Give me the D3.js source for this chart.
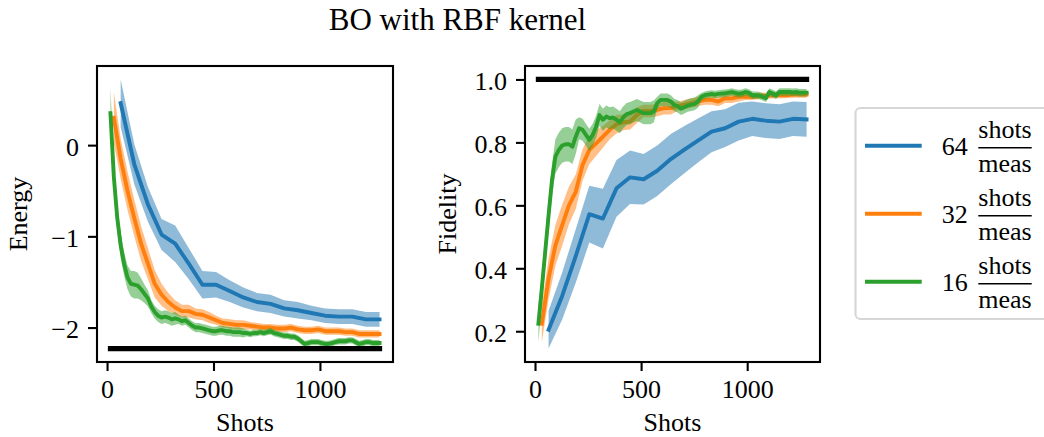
<!DOCTYPE html>
<html><head><meta charset="utf-8">
<script src="https://cdn.jsdelivr.net/npm/d3@7"></script>
<style>
html,body{margin:0;padding:0;background:#fff;}
svg text{font-family:"Liberation Serif","Times New Roman",serif;fill:#000;}
</style></head>
<body><svg id="chart" width="1044" height="437"></svg>
<script>
// ---------- data ----------
const seriesNames = ["64", "32", "16"];
const colors = ["#1f77b4", "#ff7f0e", "#2ca02c"];
const shots64 = d3.range(64, 1281, 64);
const shots32 = d3.range(32, 1281, 32);
const shots16 = d3.range(16, 1281, 16);

const energy64 = [0.46,-0.21,-0.65,-0.98,-1.08,-1.30,-1.53,-1.53,-1.60,-1.67,-1.72,-1.74,-1.79,-1.81,-1.84,-1.87,-1.88,-1.88,-1.91,-1.91];
const energy64Err = [0.26,0.22,0.19,0.17,0.20,0.17,0.15,0.14,0.12,0.11,0.10,0.10,0.09,0.09,0.08,0.08,0.08,0.08,0.08,0.08];

const energy32 = [0.30,-0.15,-0.50,-0.80,-1.08,-1.30,-1.52,-1.64,-1.72,-1.78,-1.82,-1.82,-1.85,-1.86,-1.89,-1.92,-1.95,-1.96,-1.97,-1.97,
                  -1.98,-1.99,-2.00,-2.00,-2.01,-2.01,-2.00,-2.02,-2.03,-2.03,-2.02,-2.04,-2.04,-2.04,-2.05,-2.05,-2.07,-2.07,-2.07,-2.07];
const energy32Err = [0.28,0.22,0.21,0.20,0.19,0.17,0.15,0.12,0.10,0.08,0.07,0.07,0.06,0.06,0.06,0.05,0.05,0.05,0.05,0.05,
                     0.04,0.04,0.04,0.04,0.04,0.04,0.04,0.04,0.04,0.04,0.04,0.04,0.04,0.04,0.04,0.04,0.04,0.04,0.04,0.04];

const energy16 = [0.35,-0.35,-0.80,-1.10,-1.30,-1.45,-1.52,-1.53,-1.54,-1.58,-1.63,-1.68,-1.77,-1.83,-1.87,-1.89,-1.88,-1.89,-1.91,-1.90,
                  -1.91,-1.93,-1.92,-1.95,-1.98,-2.00,-2.00,-2.01,-2.02,-2.03,-2.04,-2.04,-2.03,-2.03,-2.04,-2.04,-2.05,-2.05,-2.05,-2.06,
                  -2.06,-2.07,-2.06,-2.06,-2.05,-2.06,-2.05,-2.04,-2.06,-2.07,-2.08,-2.09,-2.09,-2.10,-2.10,-2.12,-2.15,-2.18,-2.17,-2.16,
                  -2.16,-2.16,-2.17,-2.18,-2.18,-2.17,-2.16,-2.15,-2.15,-2.15,-2.14,-2.14,-2.16,-2.18,-2.17,-2.16,-2.16,-2.17,-2.17,-2.17];
const energy16Err = [0.28,0.18,0.15,0.14,0.13,0.13,0.14,0.15,0.14,0.12,0.10,0.09,0.07,0.07,0.07,0.07,0.07,0.07,0.07,0.07,
                     0.05,0.05,0.05,0.05,0.05,0.05,0.05,0.05,0.05,0.05,0.05,0.05,0.05,0.05,0.05,0.05,0.05,0.05,0.05,0.05,
                     0.035,0.035,0.035,0.035,0.035,0.035,0.035,0.035,0.035,0.035,0.035,0.035,0.035,0.035,0.035,0.035,0.035,0.035,0.035,0.035,
                     0.035,0.035,0.035,0.035,0.035,0.035,0.035,0.035,0.035,0.035,0.035,0.035,0.035,0.035,0.035,0.035,0.035,0.035,0.035,0.035];

const fidelity64 = [0.205,0.312,0.439,0.572,0.558,0.654,0.689,0.683,0.710,0.747,0.777,0.806,0.834,0.845,0.866,0.875,0.869,0.866,0.875,0.873];
const fidelity64Err = [0.06,0.075,0.085,0.09,0.095,0.09,0.085,0.08,0.08,0.08,0.075,0.07,0.065,0.06,0.06,0.055,0.055,0.055,0.055,0.055];

const fidelity32 = [0.224,0.367,0.473,0.537,0.600,0.643,0.728,0.776,0.797,0.818,0.840,0.858,0.864,0.866,0.887,0.900,0.900,0.903,0.909,0.909,
                    0.915,0.920,0.925,0.930,0.935,0.935,0.930,0.940,0.940,0.945,0.945,0.945,0.948,0.948,0.950,0.950,0.950,0.952,0.952,0.952];
const fidelity32Err = [0.058,0.065,0.065,0.065,0.06,0.055,0.05,0.045,0.04,0.035,0.03,0.03,0.025,0.025,0.025,0.02,0.02,0.02,0.02,0.02,
                       0.015,0.015,0.015,0.015,0.015,0.015,0.015,0.015,0.015,0.015,0.01,0.01,0.01,0.01,0.01,0.01,0.01,0.01,0.01,0.01];

const fidelity16 = [0.224,0.335,0.452,0.569,0.680,0.755,0.776,0.790,0.794,0.794,0.786,0.818,0.845,0.840,0.824,0.808,0.824,0.850,0.887,0.872,
                    0.882,0.877,0.879,0.872,0.864,0.880,0.890,0.893,0.898,0.903,0.898,0.893,0.893,0.893,0.898,0.925,0.935,0.935,0.935,0.930,
                    0.919,0.915,0.907,0.912,0.917,0.920,0.922,0.930,0.945,0.950,0.952,0.954,0.952,0.954,0.955,0.956,0.958,0.960,0.957,0.955,
                    0.956,0.960,0.957,0.950,0.950,0.949,0.945,0.940,0.960,0.955,0.950,0.960,0.960,0.960,0.960,0.959,0.960,0.958,0.958,0.958];
const fidelity16Err = [0.058,0.05,0.05,0.05,0.05,0.055,0.055,0.055,0.055,0.055,0.055,0.055,0.035,0.035,0.035,0.035,0.035,0.035,0.035,0.035,
                       0.035,0.035,0.035,0.035,0.035,0.035,0.035,0.035,0.035,0.035,0.035,0.035,0.035,0.035,0.035,0.02,0.02,0.02,0.02,0.02,
                       0.02,0.02,0.02,0.02,0.02,0.02,0.02,0.02,0.012,0.012,0.012,0.012,0.012,0.012,0.012,0.012,0.012,0.012,0.012,0.012,
                       0.012,0.012,0.012,0.012,0.012,0.012,0.012,0.012,0.012,0.012,0.012,0.012,0.012,0.012,0.012,0.012,0.012,0.012,0.012,0.012];

const energyRef = -2.23;
const fidelityRef = 1.0;
const refShots = [16, 1280];

const xTicks = [0, 500, 1000];
const energyTicks = [-2, -1, 0];
const fidelityTicks = [0.2, 0.4, 0.6, 0.8, 1.0];

// ---------- drawing ----------
const svg = d3.select("#chart");
const FS = 26;

function padded(lo, hi) { const m = (hi - lo) * 0.05; return [lo - m, hi + m]; }

function panel(opts) {
  const { left, right, top, bottom, series, ref, yTicks, yFmt, ylabel, ylabelX } = opts;
  const allX = series.flatMap(s => s.x).concat(refShots);
  const lows = series.flatMap(s => s.y.map((v, i) => v - s.e[i])).concat([ref]);
  const highs = series.flatMap(s => s.y.map((v, i) => v + s.e[i])).concat([ref]);
  const x = d3.scaleLinear().domain(padded(d3.min(allX), d3.max(allX))).range([left, right]);
  const y = d3.scaleLinear().domain(padded(d3.min(lows), d3.max(highs))).range([bottom, top]);
  const g = svg.append("g");
  const clipId = "clip" + Math.round(left);
  g.append("clipPath").attr("id", clipId).append("rect")
    .attr("x", left).attr("y", top).attr("width", right - left).attr("height", bottom - top);
  const plot = g.append("g").attr("clip-path", `url(#${clipId})`);
  series.forEach(s => {
    const pts = s.x.map((xv, i) => ({ x: xv, y: s.y[i], e: s.e[i] }));
    plot.append("path").datum(pts)
      .attr("d", d3.area().x(d => x(d.x)).y0(d => y(d.y - d.e)).y1(d => y(d.y + d.e)))
      .attr("fill", s.color).attr("fill-opacity", 0.5).attr("stroke", "none");
    plot.append("path").datum(pts)
      .attr("d", d3.line().x(d => x(d.x)).y(d => y(d.y)))
      .attr("fill", "none").attr("stroke", s.color).attr("stroke-width", 3.9)
      .attr("stroke-linejoin", "round").attr("stroke-linecap", "square");
  });
  plot.append("path").datum(refShots)
    .attr("d", d3.line().x(d => x(d)).y(() => y(ref)))
    .attr("stroke", "#000").attr("stroke-width", 5.2).attr("stroke-linecap", "square").attr("fill", "none");

  // frame
  g.append("rect").attr("x", left).attr("y", top).attr("width", right - left).attr("height", bottom - top)
    .attr("fill", "none").attr("stroke", "#000").attr("stroke-width", 2.1);

  const ax = g.append("g").attr("transform", `translate(0,${bottom})`)
    .call(d3.axisBottom(x).tickValues(xTicks).tickSize(9).tickPadding(9).tickFormat(d3.format("d")));
  const ay = g.append("g").attr("transform", `translate(${left},0)`)
    .call(d3.axisLeft(y).tickValues(yTicks).tickSize(9).tickPadding(9).tickFormat(yFmt));
  [ax, ay].forEach(a => {
    a.select(".domain").remove();
    a.selectAll(".tick line").attr("stroke", "#000").attr("stroke-width", 2.1);
    a.selectAll(".tick text").attr("font-size", FS).attr("font-family", "Liberation Serif");
  });
  ay.selectAll(".tick text").attr("dy", "0.38em");

  g.append("text").attr("x", (left + right) / 2).attr("y", 431).attr("text-anchor", "middle")
    .attr("font-size", FS).text("Shots");
  g.append("text").attr("transform", `translate(${ylabelX},${(top + bottom) / 2}) rotate(-90)`)
    .attr("text-anchor", "middle").attr("font-size", FS).text(ylabel);
}

const eSeries = [
  { x: shots64, y: energy64, e: energy64Err, color: colors[0] },
  { x: shots32, y: energy32, e: energy32Err, color: colors[1] },
  { x: shots16, y: energy16, e: energy16Err, color: colors[2] }
];
const fSeries = [
  { x: shots64, y: fidelity64, e: fidelity64Err, color: colors[0] },
  { x: shots32, y: fidelity32, e: fidelity32Err, color: colors[1] },
  { x: shots16, y: fidelity16, e: fidelity16Err, color: colors[2] }
];

panel({ left: 97, right: 393, top: 66, bottom: 362, series: eSeries, ref: energyRef,
        yTicks: energyTicks, yFmt: d3.format("d"), ylabel: "Energy", ylabelX: 27 });
panel({ left: 525, right: 820, top: 66, bottom: 362, series: fSeries, ref: fidelityRef,
        yTicks: fidelityTicks, yFmt: d3.format(".1f"), ylabel: "Fidelity", ylabelX: 456 });

// title
svg.append("text").attr("x", 457.5).attr("y", 29.5).attr("text-anchor", "middle")
  .attr("font-size", 31).text("BO with RBF kernel");

// legend
const lg = svg.append("g");
lg.append("rect").attr("x", 855.5).attr("y", 108).attr("width", 210).attr("height", 211)
  .attr("rx", 5).attr("ry", 5).attr("fill", "#fff").attr("stroke", "#d6d6d6").attr("stroke-width", 2.1);
seriesNames.forEach((name, i) => {
  const cy = 145.7 + i * 68;
  lg.append("line").attr("x1", 865).attr("x2", 921.7).attr("y1", cy).attr("y2", cy)
    .attr("stroke", colors[i]).attr("stroke-width", 3.9);
  lg.append("text").attr("x", 941.7).attr("y", cy + 9.3).attr("font-size", FS).text(name);
  lg.append("text").attr("x", 1005).attr("y", cy - 7.4).attr("text-anchor", "middle").attr("font-size", FS).text("shots");
  lg.append("line").attr("x1", 978.3).attr("x2", 1031.7).attr("y1", cy + 2).attr("y2", cy + 2)
    .attr("stroke", "#000").attr("stroke-width", 1.6);
  lg.append("text").attr("x", 1005).attr("y", cy + 26).attr("text-anchor", "middle").attr("font-size", FS).text("meas");
});
</script></body></html>
